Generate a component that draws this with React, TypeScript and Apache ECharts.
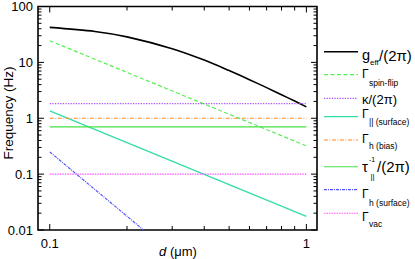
import React, { useEffect, useRef } from 'react';
import * as echarts from 'echarts';

const FONT = '"Liberation Sans", Arial, Helvetica, sans-serif';

// ---- data ----
const dGeff = [0.1, 0.15, 0.2, 0.3, 0.4, 0.5, 0.6, 0.7, 0.8, 0.9, 1];
const geff = [42.3, 35.8, 28.6, 17.6, 11, 7.13, 4.9, 3.53, 2.64, 2.03, 1.6];

const dSpinFlip = [0.1, 1];
const spinFlip = [24.4, 0.32];

const dKappa = [0.1, 1];
const kappa = [1.82, 1.82];

const dParSurface = [0.1, 1];
const parSurface = [1.35, 0.0175];

const dHBias = [0.1, 1];
const hBias = [1, 1];

const dTauPar = [0.1, 1];
const tauPar = [0.7, 0.7];

const dHSurface = [0.1, 0.232];
const hSurface = [0.25, 0.01];

const dVac = [0.1, 1];
const vac = [0.1, 0.1];

const xTicks = [0.1, 0.2, 0.3, 0.4, 0.5, 0.6, 0.7, 0.8, 0.9, 1];
const xMajorTicks = [0.1, 1];
const xTickLabels = ['0.1', '1'];

const yMajorTicks = [0.01, 0.1, 1, 10, 100];
const yTickLabels = ['0.01', '0.1', '1', '10', '100'];
const yMinorMult = [2, 3, 4, 5, 6, 7, 8, 9];

const pairs = (xs: number[], ys: number[]) => xs.map((x, i) => [x, ys[i]]);

export default function App() {
  const ref = useRef<HTMLDivElement>(null);
  useEffect(() => {
    const chart = echarts.init(ref.current!, null, { renderer: 'svg' });

    const yMinor: number[] = [];
    for (let i = 0; i < yMajorTicks.length - 1; i++) {
      for (const m of yMinorMult) yMinor.push(+(yMajorTicks[i] * m).toPrecision(3));
    }
    const yTickData = [
      ...yMajorTicks.map((v) => [0.5, v, 1]),
      ...yMinor.map((v) => [0.5, v, 0]),
    ];

    const lineSeries = (name: string, data: number[][], color: string, width: number, type: any, smooth: any = false) => ({
      name,
      type: 'line',
      data,
      showSymbol: false,
      symbol: 'none',
      clip: true,
      smooth,
      lineStyle: { color, width, type },
      z: 3,
    });

    const legendLines = [
      { y: 51.7, color: '#000000', width: 1.6, dash: null },
      { y: 74.7, color: '#55ee55', width: 1.2, dash: [4, 2.5] },
      { y: 98.3, color: '#aa55ff', width: 1.2, dash: [1.3, 1.3] },
      { y: 116.7, color: '#33ddaa', width: 1.3, dash: null },
      { y: 140, color: '#ff8c2a', width: 1.1, dash: [4, 1.5, 1, 1.5] },
      { y: 166.7, color: '#44e044', width: 1.1, dash: null },
      { y: 189.7, color: '#5555ff', width: 1.2, dash: [3, 1, 1, 1] },
      { y: 213.3, color: '#ff55ff', width: 1.1, dash: [1.5, 1] },
    ];

    const parts: [string, number, number, number][] = [
      ['g', 362, 55, 14.5], ['eff', 370, 62, 8], ['/(2\u03c0)', 379, 55, 15],
      ['\u0393', 362, 74, 12], ['spin-flip', 369, 82.5, 8.5],
      ['\u03ba/(2\u03c0)', 362, 99, 13],
      ['\u0393', 362, 113.5, 12], ['|| (surface)', 369, 121.5, 8.5],
      ['\u0393', 362, 138.5, 12], ['h (bias)', 369, 146, 8.5],
      ['\u03c4', 362, 166, 15], ['-1', 369, 159.5, 7], ['||', 370.5, 176.5, 8], ['/(2\u03c0)', 377, 166, 15],
      ['\u0393', 362, 193.5, 12], ['h (surface)', 369, 203, 8.5],
      ['\u0393', 362, 216.5, 12], ['vac', 369, 224, 8.5],
    ];

    const graphic: any[] = [];
    legendLines.forEach((l) => {
      graphic.push({
        type: 'line',
        shape: { x1: 324, y1: l.y, x2: 358, y2: l.y },
        style: { stroke: l.color, lineWidth: l.width, lineDash: l.dash || undefined },
      });
    });
    parts.forEach(([t, x, y, fs]) => {
      graphic.push({
        type: 'text',
        x,
        y,
        style: { text: t, fontSize: fs, fontFamily: FONT, fill: '#000', align: 'left', verticalAlign: 'middle' },
      });
    });
    graphic.push({
      type: 'text',
      x: 8,
      y: 113,
      rotation: Math.PI / 2,
      style: { text: 'Frequency (Hz)', fontSize: 13.5, fontFamily: FONT, fill: '#000', align: 'center', verticalAlign: 'middle' },
    });
    graphic.push({
      type: 'text',
      x: 178,
      y: 251.5,
      style: {
        text: '{i|d} (\u03bcm)',
        fontSize: 13,
        fontFamily: FONT,
        fill: '#000',
        align: 'center',
        verticalAlign: 'middle',
        rich: { i: { fontStyle: 'italic', fontSize: 13, fontFamily: FONT, fill: '#000' } },
      },
    });

    const option: any = {
      animation: false,
      backgroundColor: '#fff',
      grid: {
        left: 38,
        top: 5,
        width: 279,
        height: 225,
        show: true,
        borderColor: '#000',
        borderWidth: 1.6,
        backgroundColor: 'transparent',
      },
      xAxis: {
        type: 'log',
        logBase: 10,
        min: 0.09,
        max: 1.1,
        axisLine: { show: false },
        axisTick: { show: false },
        axisLabel: { show: false },
        splitLine: { show: false },
        minorTick: { show: false },
      },
      yAxis: {
        type: 'log',
        logBase: 10,
        min: 0.01,
        max: 100,
        axisLine: { show: false },
        axisTick: { show: false },
        splitLine: { show: false },
        minorTick: { show: false },
        axisLabel: {
          fontSize: 13,
          fontFamily: FONT,
          color: '#000',
          margin: 5,
          formatter: (v: number) => {
            let best = 0;
            yMajorTicks.forEach((t, i) => {
              if (Math.abs(Math.log10(t) - Math.log10(v)) < Math.abs(Math.log10(yMajorTicks[best]) - Math.log10(v))) best = i;
            });
            return yTickLabels[best];
          },
        },
      },
      graphic,
      series: [
        lineSeries('g_eff/(2π)', pairs(dGeff, geff), '#000000', 1.6, 'solid', 0.3),
        lineSeries('Γ spin-flip', pairs(dSpinFlip, spinFlip), '#55ee55', 1.2, [4, 2.5]),
        lineSeries('κ/(2π)', pairs(dKappa, kappa), '#aa55ff', 1.2, [1.3, 1.3]),
        lineSeries('Γ || (surface)', pairs(dParSurface, parSurface), '#33ddaa', 1.3, 'solid'),
        lineSeries('Γ h (bias)', pairs(dHBias, hBias), '#ff8c2a', 1.1, [4, 1.5, 1, 1.5]),
        lineSeries('τ^-1 ||/(2π)', pairs(dTauPar, tauPar), '#44e044', 1.1, 'solid'),
        lineSeries('Γ h (surface)', pairs(dHSurface, hSurface), '#5555ff', 1.2, [3, 1, 1, 1]),
        lineSeries('Γ vac', pairs(dVac, vac), '#ff55ff', 1.1, [1.5, 1]),
        {
          type: 'custom',
          silent: true,
          z: 5,
          data: xTicks.map((v) => [v, 1]),
          renderItem: (params: any, api: any) => {
            const v = api.value(0);
            const p = api.coord([v, 1]);
            const cs = params.coordSys;
            const idx = xMajorTicks.indexOf(v);
            const len = idx >= 0 ? 6 : 4;
            const bottom = cs.y + cs.height;
            const children: any[] = [
              { type: 'line', shape: { x1: p[0], y1: bottom, x2: p[0], y2: bottom - len }, style: { stroke: '#000', lineWidth: 1 } },
              { type: 'line', shape: { x1: p[0], y1: cs.y, x2: p[0], y2: cs.y + len }, style: { stroke: '#000', lineWidth: 1 } },
            ];
            if (idx >= 0) {
              children.push({
                type: 'text',
                x: p[0],
                y: bottom + 13.5,
                style: { text: xTickLabels[idx], fontSize: 13, fontFamily: FONT, fill: '#000', align: 'center', verticalAlign: 'middle' },
              });
            }
            return { type: 'group', children };
          },
        },
        {
          type: 'custom',
          silent: true,
          z: 5,
          data: yTickData,
          renderItem: (params: any, api: any) => {
            const v = api.value(1);
            const major = api.value(2) === 1;
            const p = api.coord([0.5, v]);
            const cs = params.coordSys;
            const len = major ? 6 : 3.5;
            const right = cs.x + cs.width;
            return {
              type: 'group',
              children: [
                { type: 'line', shape: { x1: cs.x, y1: p[1], x2: cs.x + len, y2: p[1] }, style: { stroke: '#000', lineWidth: 1 } },
                { type: 'line', shape: { x1: right, y1: p[1], x2: right - len, y2: p[1] }, style: { stroke: '#000', lineWidth: 1 } },
              ],
            };
          },
        },
      ],
    };
    chart.setOption(option);
    return () => chart.dispose();
  }, []);
  return <div ref={ref} style={{ position: 'absolute', left: 0, top: 0, width: 415, height: 259 }} />;
}
